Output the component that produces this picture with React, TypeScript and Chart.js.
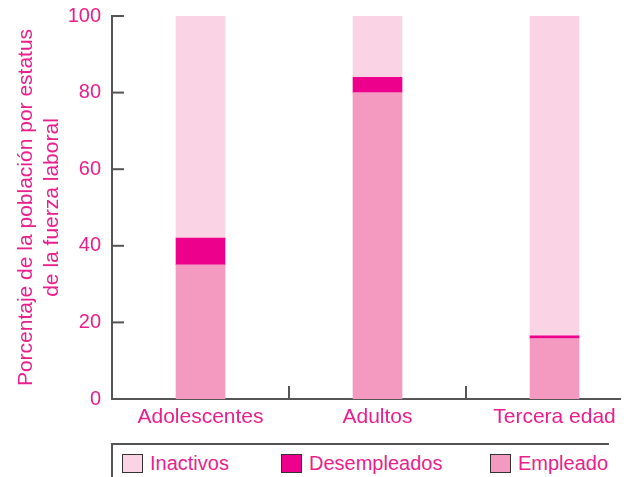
import React, { useEffect, useRef } from 'react';
import { Chart, registerables } from 'chart.js';

Chart.register(...registerables);

const categories = ['Adolescentes', 'Adultos', 'Tercera edad'];
const empleado = [35, 80, 15.8];
const desempleados = [7, 4, 0.7];
const inactivos = [58, 16, 83.5];
const yTickStep = 20;

const seriesNames = ['Inactivos', 'Desempleados', 'Empleado'];
const seriesColors = ['#fad4e4', '#ec008c', '#f49ac1'];

const PINK = '#ea1e8c';
const AXIS = '#555555';
const FONT = '"Liberation Sans", Arial, Helvetica, sans-serif';

const inwardTicks = {
  id: 'inwardTicks',
  afterDatasetsDraw(chart: any) {
    const { ctx, chartArea, scales } = chart;
    ctx.save();
    ctx.strokeStyle = AXIS;
    ctx.lineWidth = 2;
    scales.y.ticks.forEach((t: any) => {
      const y = scales.y.getPixelForValue(t.value);
      ctx.beginPath();
      ctx.moveTo(chartArea.left, y);
      ctx.lineTo(chartArea.left + 12, y);
      ctx.stroke();
    });
    for (let i = 0; i < categories.length - 1; i++) {
      const x = scales.x.getPixelForValue(i + 0.5);
      ctx.beginPath();
      ctx.moveTo(x, chartArea.bottom);
      ctx.lineTo(x, chartArea.bottom - 13);
      ctx.stroke();
    }
    ctx.restore();
  },
};

export default function App() {
  const ref = useRef<HTMLCanvasElement>(null);

  useEffect(() => {
    if (!ref.current) return;
    const pts = (arr: number[]) => arr.map((v, i) => ({ x: i, y: v }));
    const chart = new Chart(ref.current, {
      type: 'bar',
      data: {
        datasets: [
          { label: seriesNames[2], data: pts(empleado), backgroundColor: seriesColors[2] },
          { label: seriesNames[1], data: pts(desempleados), backgroundColor: seriesColors[1] },
          { label: seriesNames[0], data: pts(inactivos), backgroundColor: seriesColors[0] },
        ] as any,
      },
      options: {
        animation: false,
        responsive: false,
        datasets: { bar: { barThickness: 49, borderWidth: 0 } } as any,
        layout: { autoPadding: false, padding: { top: 8, right: 14, left: 0, bottom: 0 } } as any,
        plugins: { legend: { display: false }, tooltip: { enabled: false } },
        scales: {
          x: {
            type: 'linear',
            offset: false,
            min: -0.5,
            max: 2.37,
            stacked: true,
            grid: { display: false, drawTicks: false, offset: false },
            border: { display: true, color: AXIS, width: 2 },
            ticks: {
              color: PINK,
              font: { size: 21, family: FONT },
              padding: 6,
              maxRotation: 0,
              autoSkip: false,
              callback: (v: any) => categories[Math.round(Number(v))] ?? '',
            },
            afterBuildTicks: (s: any) => {
              s.ticks = categories.map((_, i) => ({ value: i }));
            },
            afterFit: (s: any) => {
              s.height = 44;
              s.paddingLeft = 0;
              s.paddingRight = 0;
            },
          },
          y: {
            stacked: true,
            min: 0,
            max: 100,
            grid: { display: false, drawTicks: false },
            border: { display: true, color: AXIS, width: 2 },
            ticks: {
              stepSize: yTickStep,
              color: PINK,
              font: { size: 20, family: FONT },
              padding: 11,
            },
            title: {
              display: true,
              text: ['Porcentaje de la población por estatus', 'de la fuerza laboral'],
              color: PINK,
              font: { size: 21, family: FONT, lineHeight: 1.2 },
              padding: { top: 6, bottom: 0 },
            },
            afterFit: (s: any) => {
              s.width = 104;
              s.paddingTop = 0;
              s.paddingBottom = 0;
            },
          },
        },
      } as any,
      plugins: [inwardTicks],
    });
    return () => chart.destroy();
  }, []);

  const legendLefts = [10, 169, 378];

  return (
    <div style={{ width: 626, fontFamily: FONT }}>
      <canvas ref={ref} width={626} height={435} style={{ display: 'block', width: 626, height: 435 }} />
      <div
        style={{
          position: 'relative',
          marginLeft: 103,
          width: 496,
          height: 32,
          borderTop: `2px solid ${AXIS}`,
          borderLeft: `2px solid ${AXIS}`,
        }}
      >
        {seriesNames.map((name, i) => (
          <div
            key={name}
            style={{
              position: 'absolute',
              left: legendLefts[i] - 1,
              top: 7,
              display: 'flex',
              alignItems: 'center',
              color: PINK,
              fontSize: 20,
              lineHeight: '22px',
              whiteSpace: 'nowrap',
            }}
          >
            <span
              style={{
                display: 'inline-block',
                width: 19,
                height: 17,
                background: seriesColors[i],
                border: '1.5px solid #333',
                marginRight: 7,
              }}
            />
            {name}
          </div>
        ))}
      </div>
    </div>
  );
}
